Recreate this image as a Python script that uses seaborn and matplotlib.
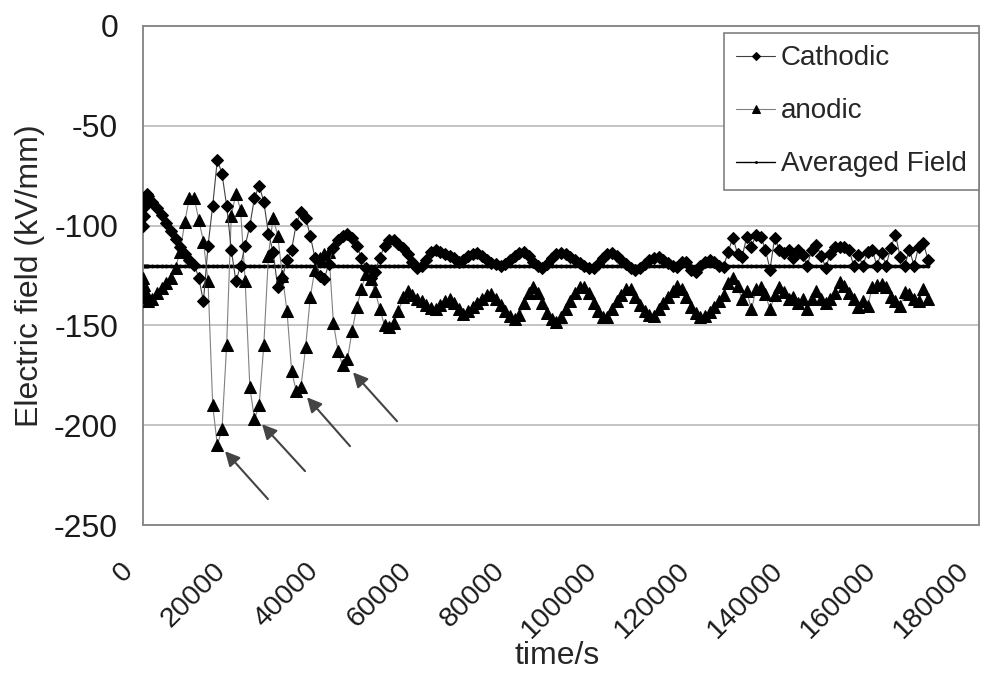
import matplotlib
matplotlib.use("Agg")
import matplotlib.pyplot as plt
import matplotlib.transforms as mtransforms
from matplotlib.ticker import MultipleLocator
import seaborn as sns
import pandas as pd

# sampling times in kiloseconds (dense at the start, then every 1000 s)
time_ks = [0, 0.2, 0.4, 0.6, 0.8,
           1, 2, 3, 4, 5, 6, 7, 8, 9, 10,
           11, 12, 13, 14, 15, 16, 17, 18, 19, 20,
           21, 22, 23, 24, 25, 26, 27, 28, 29, 30,
           31, 32, 33, 34, 35, 36, 37, 38, 39, 40,
           41, 42, 43, 44, 45, 46, 47, 48, 49, 50,
           51, 52, 53, 54, 55, 56, 57, 58, 59, 60,
           61, 62, 63, 64, 65, 66, 67, 68, 69, 70,
           71, 72, 73, 74, 75, 76, 77, 78, 79, 80,
           81, 82, 83, 84, 85, 86, 87, 88, 89, 90,
           91, 92, 93, 94, 95, 96, 97, 98, 99, 100,
           101, 102, 103, 104, 105, 106, 107, 108, 109, 110,
           111, 112, 113, 114, 115, 116, 117, 118, 119, 120,
           121, 122, 123, 124, 125, 126, 127, 128, 129, 130,
           131, 132, 133, 134, 135, 136, 137, 138, 139, 140,
           141, 142, 143, 144, 145, 146, 147, 148, 149, 150,
           151, 152, 153, 154, 155, 156, 157, 158, 159, 160,
           161, 162, 163, 164, 165, 166, 167, 168, 169]

cathodic = [-100, -95, -90, -86, -84,
            -85, -88, -91, -94.5, -98.5, -102.5, -106.5, -110.5, -114, -117,
            -119.5, -126, -138, -110, -90, -67, -74, -90, -112, -128,
            -120, -110, -100, -86, -80, -88, -104, -113, -131, -126,
            -117, -112, -99, -93, -96, -105, -116, -125, -127, -119,
            -111, -107, -105, -104, -106, -110, -116, -121, -126, -123,
            -116, -110, -107, -107, -109, -111, -114, -118, -121, -120,
            -117, -113, -112, -113, -114, -115, -116, -118, -117, -115,
            -114, -113.5, -115, -117, -118.5, -119, -120, -119, -117, -115,
            -113.5, -113, -115, -118, -120, -121, -119, -116, -114, -113.5,
            -114, -115.5, -117, -118.5, -120, -121, -121, -119, -116, -114,
            -113.5, -115, -117, -119, -121, -122, -121, -119, -117, -116,
            -115.5, -117, -118.5, -120, -120.5, -118, -118, -122, -123, -120,
            -118, -117, -118, -120, -120.5, -113, -106, -114, -115.5, -105.5,
            -110.5, -104.5, -105.5, -112, -122, -106, -112, -113.5, -112, -116,
            -112, -114.5, -120, -112, -109.5, -115, -121, -114, -110.5, -110.5,
            -110.5, -112, -120, -114.5, -120, -113, -112, -120, -113.5, -120,
            -111, -104.5, -115.5, -120, -112, -120, -110.5, -108.5, -117]

anodic = [-126, -130, -133, -135, -136,
          -138, -137, -134, -131.5, -129, -126, -121, -113, -98, -86,
          -86, -97, -108, -128, -190, -210, -202, -160, -95, -84,
          -92, -128, -181, -197, -190, -160, -115, -96, -105, -125,
          -143, -173, -183, -181, -161, -136, -122, -116, -114, -113,
          -149, -163, -170, -167, -153, -141, -132, -124, -127, -133,
          -142, -150, -151, -149, -143, -136, -133, -135, -137, -138,
          -140, -141.5, -142, -140, -138, -137, -139, -142, -144.5, -143,
          -141, -139, -137, -135, -134.5, -137, -140, -143, -145.5, -147,
          -145, -139, -134, -131, -134, -139, -144, -147, -148.5, -146,
          -142, -138, -134, -131, -131, -134, -139, -143, -146, -146,
          -142, -138, -135, -132, -132, -136, -140, -143, -145, -145.5,
          -142, -139, -136, -133, -130.5, -132, -136, -141, -144, -146,
          -145.5, -143.5, -141, -138, -135, -129, -126, -130.5, -137, -133,
          -142, -132, -131, -134.5, -142, -135, -131, -133.5, -137, -136,
          -139, -137, -142, -137, -133, -137, -139, -137, -134, -128.5,
          -130.5, -134, -137, -141, -138, -140.5, -131, -130, -129.5, -131,
          -136, -138, -140.5, -133.5, -134.5, -137, -138, -132, -137]

averaged_value = -120.0

# arrows pointing at the anodic minima (time s, field kV/mm)
arrow_heads = [(17650, -213), (25620, -199.5), (35310, -186), (45210, -173.5)]
arrow_tails = [(26900, -237), (34880, -223), (44570, -210.5), (54690, -198)]

df = pd.DataFrame({
    "time": [t * 1000 for t in time_ks],
    "cathodic": cathodic,
    "anodic": anodic,
})
df["averaged"] = averaged_value

sns.set_style("white")
plt.rcParams["font.family"] = ["Liberation Sans", "DejaVu Sans"]
plt.rcParams["axes.unicode_minus"] = False

fig = plt.figure(figsize=(9.81, 6.77), dpi=100)
ax = fig.add_axes([0.1458, 0.2245, 0.8522, 0.7371])

sns.lineplot(data=df, x="time", y="averaged", ax=ax, color="black", lw=2.4,
             marker=".", markersize=4, markeredgecolor="black",
             label="Averaged Field", estimator=None, sort=False, zorder=2)
sns.lineplot(data=df, x="time", y="anodic", ax=ax, color="#808080", lw=0.8,
             marker="^", markersize=8.5, markerfacecolor="black",
             markeredgecolor="black", label="anodic",
             estimator=None, sort=False, zorder=3)
sns.lineplot(data=df, x="time", y="cathodic", ax=ax, color="#404040", lw=0.8,
             marker="D", markersize=6.5, markerfacecolor="black",
             markeredgecolor="black", label="Cathodic",
             estimator=None, sort=False, zorder=4)

for head, tail in zip(arrow_heads, arrow_tails):
    ax.annotate("", xy=head, xytext=tail,
                arrowprops=dict(arrowstyle="-|>", color="#444444", lw=1.5,
                                mutation_scale=22, shrinkA=0, shrinkB=0))

ax.set_xlim(0, 180000)
ax.set_ylim(-250, 0)
ax.xaxis.set_major_locator(MultipleLocator(20000))
ax.xaxis.set_minor_locator(MultipleLocator(4000))
ax.yaxis.set_major_locator(MultipleLocator(50))
ax.grid(axis="y", color="#c4c4c4", lw=1.4)
ax.grid(axis="x", visible=False)

for sp in ax.spines.values():
    sp.set_color("#8a8a8a")
    sp.set_linewidth(1.4)

ax.tick_params(axis="x", which="major", direction="in", length=8, width=1,
               color="#8a8a8a", labelsize=20.5, labelcolor="#1a1a1a", pad=2)
ax.tick_params(axis="x", which="minor", direction="in", length=5, width=1,
               color="#8a8a8a")
ax.tick_params(axis="y", length=0, labelsize=23, labelcolor="#1a1a1a", pad=18)

# rotated labels sit down-left of their ticks
offset = mtransforms.ScaledTranslation(-23 / 100, -30 / 100, fig.dpi_scale_trans)
for lab in ax.get_xticklabels():
    lab.set_rotation(45)
    lab.set_ha("right")
    lab.set_va("top")
    lab.set_rotation_mode("anchor")
    lab.set_transform(lab.get_transform() + offset)

ax.set_xlabel("time/s", fontsize=23)
ax.set_ylabel("Electric field (kV/mm)", fontsize=23)
ax.xaxis.set_label_coords(0.495, -0.232)
ax.yaxis.set_label_coords(-0.117, 0.5)

handles, labels = ax.get_legend_handles_labels()
order = [labels.index(n) for n in ["Cathodic", "anodic", "Averaged Field"]]
leg = ax.legend([handles[i] for i in order], [labels[i] for i in order],
                loc="upper right", bbox_to_anchor=(1.0, 0.986),
                borderaxespad=0, fontsize=20, frameon=True, fancybox=False,
                framealpha=1, edgecolor="#808080", handlelength=1.4,
                handletextpad=0.2, labelspacing=0.97, borderpad=0.45,
                markerscale=0.65)
leg.get_frame().set_linewidth(1.2)
leg.get_lines()[2].set_linewidth(1.0)

fig.savefig("out.png", dpi=100)
